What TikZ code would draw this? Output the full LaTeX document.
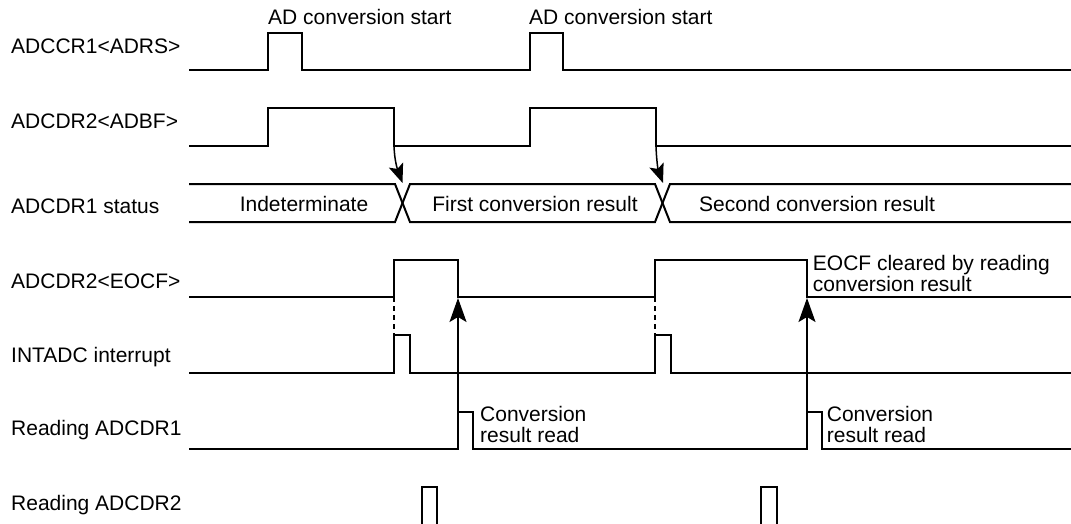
\documentclass[tikz,border=0pt]{standalone}
\usepackage{fontspec}
\setmainfont{Liberation Sans}
\usetikzlibrary{arrows.meta}
\begin{document}
\begin{tikzpicture}[x=1pt,y=-1pt,
  sig/.style={line width=2pt, line join=miter},
  txt/.style={inner sep=0pt, font=\fontsize{21}{21}\selectfont},
  lbl/.style={txt, anchor=base west},
  ctr/.style={txt, anchor=base},
  multi/.style={txt, anchor=base west, align=left},
  arr/.style={line width=1.5pt, -{Stealth[length=24pt,width=17pt,inset=5pt]}},
  carr/.style={line width=1.5pt, -{Stealth[length=19pt,width=15pt,inset=4pt]}},
  dsh/.style={line width=1.3pt, dash pattern=on 5pt off 4pt}]
\useasboundingbox (0,0) rectangle (1071,524);

% row labels
\node[lbl] (l1) at (11,53.3) {ADCCR1<ADRS>};
\node[lbl] (l2) at (11,128.3) {ADCDR2<ADBF>};
\node[lbl] (l3) at (11,213.3) {ADCDR1 status};
\node[lbl] (l4) at (11,288.3) {ADCDR2<EOCF>};
\node[lbl] (l5) at (11,362.7) {INTADC interrupt};
\node[lbl] (l6) at (11,435) {Reading ADCDR1};
\node[lbl] (l7) at (11,510) {Reading ADCDR2};

% annotations
\node[lbl] (s1) at (268,25) {AD conversion start};
\node[lbl] (s2) at (529,25) {AD conversion start};
\node[ctr] (b1) at (304,211.7) {Indeterminate};
\node[ctr] (b2) at (535,211.7) {First conversion result};
\node[lbl] (b3) at (699,211.7) {Second conversion result};
\node[multi] (r1) at (480,442.7) {Conversion\\result read};
\node[multi] (r2) at (826.7,442.7) {Conversion\\result read};
\node[multi] (e1) at (812.7,291.7) {EOCF cleared by reading\\conversion result};

% ADCCR1<ADRS>
\draw[sig] (189,70) -- (268,70) -- (268,33) -- (302,33) -- (302,70) -- (530,70) -- (530,33) -- (563,33) -- (563,70) -- (1071,70);
% ADCDR2<ADBF>
\draw[sig] (189,146) -- (268,146) -- (268,108) -- (394,108) -- (394,146) -- (530,146) -- (530,108) -- (656,108) -- (656,146) -- (1071,146);
% ADCDR1 status (bus)
\draw[sig] (189,184) -- (395,184) -- (410,222) -- (655,222) -- (670,184) -- (1071,184);
\draw[sig] (189,222) -- (395,222) -- (410,184) -- (655,184) -- (670,222) -- (1071,222);
% ADCDR2<EOCF>
\draw[sig] (189,297) -- (394,297) -- (394,260) -- (458,260) -- (458,297) -- (655,297) -- (655,260) -- (807,260) -- (807,297) -- (1071,297);
% INTADC interrupt
\draw[sig] (189,373) -- (394,373) -- (394,335) -- (410,335) -- (410,373) -- (655,373) -- (655,335) -- (671,335) -- (671,373) -- (1071,373);
% Reading ADCDR1
\draw[sig] (189,449) -- (458,449) -- (458,412) -- (473,412) -- (473,449) -- (807,449) -- (807,412) -- (822,412) -- (822,449) -- (1071,449);
% Reading ADCDR2
\draw[sig] (422,526) -- (422,487) -- (437,487) -- (437,526);
\draw[sig] (761,526) -- (761,487) -- (777,487) -- (777,526);

% dashed links
\coordinate (eu1) at (394,297);
\coordinate (iu1) at (394,335);
\coordinate (eu2) at (655,297);
\coordinate (iu2) at (655,335);
\draw[dsh] (eu1) -- (iu1);
\draw[dsh] (eu2) -- (iu2);

% arrows ADBF fall -> data change
\coordinate (f1) at (394,146);
\coordinate (x1) at (402.5,183);
\coordinate (f2) at (656,146);
\coordinate (x2) at (663,183);
\draw[carr] (f1) to[out=-88,in=110] (x1);
\draw[carr] (f2) to[out=-88,in=110] (x2);

% arrows read -> EOCF clear
\coordinate (rd1) at (458,412);
\coordinate (ec1) at (458,298);
\coordinate (rd2) at (807,412);
\coordinate (ec2) at (807,298);
\draw[arr] (rd1) -- (ec1);
\draw[arr] (rd2) -- (ec2);
\end{tikzpicture}
\end{document}
